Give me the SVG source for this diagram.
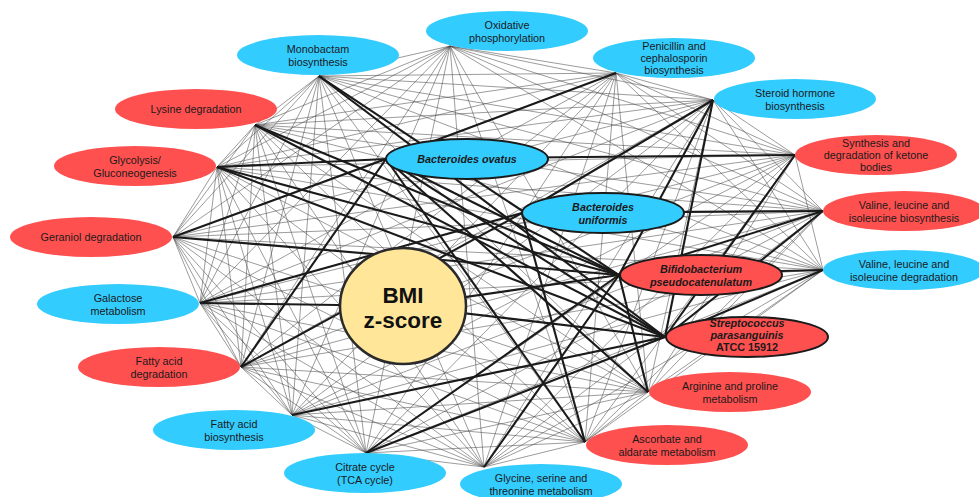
<svg xmlns="http://www.w3.org/2000/svg" width="979" height="497" viewBox="0 0 979 497">
<style>
.bg{fill:#ffffff}
.pb{fill:#33CCFF}
.pr{fill:#FF5050}
.sb{fill:#33CCFF;stroke:#1a1a1a;stroke-width:2}
.sr{fill:#FF5050;stroke:#1a1a1a;stroke-width:2}
.bmi{fill:#FFE699;stroke:#2a2a2a;stroke-width:2.5}
.t{font-family:"Liberation Sans",Arial,sans-serif;font-size:10.8px;fill:#1a1a1a;text-anchor:middle}
.ti{font-weight:bold;font-style:italic}
.tb{font-weight:bold}
.big{font-family:"Liberation Sans",Arial,sans-serif;font-size:22.5px;font-weight:bold;fill:#111;text-anchor:middle}
#thin line{stroke:#444;stroke-width:0.7;opacity:0.75}
#thick line{stroke:#1a1a1a;stroke-width:2.1}
</style>
<rect class="bg" x="0" y="0" width="979" height="497"/>
<g id="connectors">
<g id="thin">
<line x1="450" y1="46" x2="319" y2="76"/><line x1="450" y1="46" x2="255" y2="125"/><line x1="450" y1="46" x2="217" y2="167"/><line x1="450" y1="46" x2="173" y2="237"/><line x1="450" y1="46" x2="200" y2="303"/><line x1="450" y1="46" x2="241" y2="367"/><line x1="450" y1="46" x2="292" y2="415"/><line x1="450" y1="46" x2="366" y2="453"/><line x1="450" y1="46" x2="484" y2="467"/><line x1="450" y1="46" x2="585" y2="442"/><line x1="450" y1="46" x2="648" y2="392"/><line x1="450" y1="46" x2="823" y2="270"/><line x1="450" y1="46" x2="823" y2="211"/><line x1="450" y1="46" x2="795" y2="155"/><line x1="450" y1="46" x2="713" y2="100"/><line x1="450" y1="46" x2="616" y2="73"/>
<line x1="319" y1="76" x2="255" y2="125"/><line x1="319" y1="76" x2="217" y2="167"/><line x1="319" y1="76" x2="173" y2="237"/><line x1="319" y1="76" x2="200" y2="303"/><line x1="319" y1="76" x2="241" y2="367"/><line x1="319" y1="76" x2="292" y2="415"/><line x1="319" y1="76" x2="366" y2="453"/><line x1="319" y1="76" x2="484" y2="467"/><line x1="319" y1="76" x2="585" y2="442"/><line x1="319" y1="76" x2="648" y2="392"/><line x1="319" y1="76" x2="823" y2="270"/><line x1="319" y1="76" x2="823" y2="211"/><line x1="319" y1="76" x2="795" y2="155"/><line x1="319" y1="76" x2="713" y2="100"/><line x1="319" y1="76" x2="616" y2="73"/>
<line x1="255" y1="125" x2="217" y2="167"/><line x1="255" y1="125" x2="173" y2="237"/><line x1="255" y1="125" x2="200" y2="303"/><line x1="255" y1="125" x2="241" y2="367"/><line x1="255" y1="125" x2="292" y2="415"/><line x1="255" y1="125" x2="366" y2="453"/><line x1="255" y1="125" x2="484" y2="467"/><line x1="255" y1="125" x2="585" y2="442"/><line x1="255" y1="125" x2="648" y2="392"/><line x1="255" y1="125" x2="823" y2="270"/><line x1="255" y1="125" x2="823" y2="211"/><line x1="255" y1="125" x2="795" y2="155"/><line x1="255" y1="125" x2="713" y2="100"/><line x1="255" y1="125" x2="616" y2="73"/>
<line x1="217" y1="167" x2="173" y2="237"/><line x1="217" y1="167" x2="200" y2="303"/><line x1="217" y1="167" x2="241" y2="367"/><line x1="217" y1="167" x2="292" y2="415"/><line x1="217" y1="167" x2="366" y2="453"/><line x1="217" y1="167" x2="484" y2="467"/><line x1="217" y1="167" x2="585" y2="442"/><line x1="217" y1="167" x2="648" y2="392"/><line x1="217" y1="167" x2="823" y2="270"/><line x1="217" y1="167" x2="823" y2="211"/><line x1="217" y1="167" x2="795" y2="155"/><line x1="217" y1="167" x2="713" y2="100"/><line x1="217" y1="167" x2="616" y2="73"/>
<line x1="173" y1="237" x2="200" y2="303"/><line x1="173" y1="237" x2="241" y2="367"/><line x1="173" y1="237" x2="292" y2="415"/><line x1="173" y1="237" x2="366" y2="453"/><line x1="173" y1="237" x2="484" y2="467"/><line x1="173" y1="237" x2="585" y2="442"/><line x1="173" y1="237" x2="648" y2="392"/><line x1="173" y1="237" x2="823" y2="270"/><line x1="173" y1="237" x2="823" y2="211"/><line x1="173" y1="237" x2="795" y2="155"/><line x1="173" y1="237" x2="713" y2="100"/><line x1="173" y1="237" x2="616" y2="73"/>
<line x1="200" y1="303" x2="241" y2="367"/><line x1="200" y1="303" x2="292" y2="415"/><line x1="200" y1="303" x2="366" y2="453"/><line x1="200" y1="303" x2="484" y2="467"/><line x1="200" y1="303" x2="585" y2="442"/><line x1="200" y1="303" x2="648" y2="392"/><line x1="200" y1="303" x2="823" y2="270"/><line x1="200" y1="303" x2="823" y2="211"/><line x1="200" y1="303" x2="795" y2="155"/><line x1="200" y1="303" x2="713" y2="100"/><line x1="200" y1="303" x2="616" y2="73"/>
<line x1="241" y1="367" x2="292" y2="415"/><line x1="241" y1="367" x2="366" y2="453"/><line x1="241" y1="367" x2="484" y2="467"/><line x1="241" y1="367" x2="585" y2="442"/><line x1="241" y1="367" x2="648" y2="392"/><line x1="241" y1="367" x2="823" y2="270"/><line x1="241" y1="367" x2="823" y2="211"/><line x1="241" y1="367" x2="795" y2="155"/><line x1="241" y1="367" x2="713" y2="100"/><line x1="241" y1="367" x2="616" y2="73"/>
<line x1="292" y1="415" x2="366" y2="453"/><line x1="292" y1="415" x2="484" y2="467"/><line x1="292" y1="415" x2="585" y2="442"/><line x1="292" y1="415" x2="648" y2="392"/><line x1="292" y1="415" x2="823" y2="270"/><line x1="292" y1="415" x2="823" y2="211"/><line x1="292" y1="415" x2="795" y2="155"/><line x1="292" y1="415" x2="713" y2="100"/><line x1="292" y1="415" x2="616" y2="73"/>
<line x1="366" y1="453" x2="484" y2="467"/><line x1="366" y1="453" x2="585" y2="442"/><line x1="366" y1="453" x2="648" y2="392"/><line x1="366" y1="453" x2="823" y2="270"/><line x1="366" y1="453" x2="823" y2="211"/><line x1="366" y1="453" x2="795" y2="155"/><line x1="366" y1="453" x2="713" y2="100"/><line x1="366" y1="453" x2="616" y2="73"/>
<line x1="484" y1="467" x2="585" y2="442"/><line x1="484" y1="467" x2="648" y2="392"/><line x1="484" y1="467" x2="823" y2="270"/><line x1="484" y1="467" x2="823" y2="211"/><line x1="484" y1="467" x2="795" y2="155"/><line x1="484" y1="467" x2="713" y2="100"/><line x1="484" y1="467" x2="616" y2="73"/>
<line x1="585" y1="442" x2="648" y2="392"/><line x1="585" y1="442" x2="823" y2="270"/><line x1="585" y1="442" x2="823" y2="211"/><line x1="585" y1="442" x2="795" y2="155"/><line x1="585" y1="442" x2="713" y2="100"/><line x1="585" y1="442" x2="616" y2="73"/>
<line x1="648" y1="392" x2="823" y2="270"/><line x1="648" y1="392" x2="823" y2="211"/><line x1="648" y1="392" x2="795" y2="155"/><line x1="648" y1="392" x2="713" y2="100"/><line x1="648" y1="392" x2="616" y2="73"/>
<line x1="823" y1="270" x2="795" y2="155"/><line x1="823" y1="270" x2="713" y2="100"/><line x1="823" y1="270" x2="616" y2="73"/>
<line x1="823" y1="211" x2="713" y2="100"/><line x1="823" y1="211" x2="616" y2="73"/>
<line x1="795" y1="155" x2="713" y2="100"/><line x1="795" y1="155" x2="616" y2="73"/>
<line x1="713" y1="100" x2="616" y2="73"/>
</g>
<g id="thick">
<line x1="386" y1="159" x2="217" y2="167"/><line x1="386" y1="159" x2="173" y2="237"/><line x1="386" y1="159" x2="241" y2="367"/><line x1="386" y1="159" x2="795" y2="155"/><line x1="386" y1="159" x2="616" y2="73"/><line x1="386" y1="159" x2="648" y2="392"/><line x1="386" y1="159" x2="585" y2="442"/><line x1="386" y1="159" x2="619" y2="275"/><line x1="386" y1="159" x2="665" y2="337"/>
<line x1="522" y1="213" x2="713" y2="100"/><line x1="522" y1="213" x2="585" y2="442"/><line x1="522" y1="213" x2="241" y2="367"/><line x1="522" y1="213" x2="823" y2="211"/><line x1="522" y1="213" x2="200" y2="303"/>
<line x1="619" y1="275" x2="319" y2="76"/><line x1="619" y1="275" x2="255" y2="125"/><line x1="619" y1="275" x2="217" y2="167"/><line x1="619" y1="275" x2="173" y2="237"/><line x1="619" y1="275" x2="484" y2="467"/><line x1="619" y1="275" x2="366" y2="453"/><line x1="619" y1="275" x2="713" y2="100"/><line x1="619" y1="275" x2="823" y2="211"/><line x1="619" y1="275" x2="823" y2="270"/><line x1="619" y1="275" x2="648" y2="392"/><line x1="619" y1="275" x2="403" y2="306"/>
<line x1="665" y1="337" x2="319" y2="76"/><line x1="665" y1="337" x2="255" y2="125"/><line x1="665" y1="337" x2="217" y2="167"/><line x1="665" y1="337" x2="292" y2="415"/><line x1="665" y1="337" x2="366" y2="453"/><line x1="665" y1="337" x2="713" y2="100"/><line x1="665" y1="337" x2="823" y2="211"/><line x1="665" y1="337" x2="823" y2="270"/><line x1="665" y1="337" x2="795" y2="155"/><line x1="665" y1="337" x2="403" y2="306"/>
<line x1="403" y1="306" x2="200" y2="303"/>
</g>
</g>
<g id="n-oxi"><ellipse class="pb" cx="507" cy="31" rx="81" ry="20"/><text class="t" x="507" y="29">Oxidative</text><text class="t" x="507" y="41.5">phosphorylation</text></g>
<g id="n-mono"><ellipse class="pb" cx="318" cy="55" rx="81" ry="20"/><text class="t" x="318" y="53">Monobactam</text><text class="t" x="318" y="65.5">biosynthesis</text></g>
<g id="n-lys"><ellipse class="pr" cx="196" cy="109" rx="81" ry="20"/><text class="t" x="196" y="113">Lysine degradation</text></g>
<g id="n-gly"><ellipse class="pr" cx="135" cy="166" rx="81" ry="20"/><text class="t" x="135" y="164">Glycolysis/</text><text class="t" x="135" y="176.5">Gluconeogenesis</text></g>
<g id="n-ger"><ellipse class="pr" cx="91" cy="237" rx="81" ry="20"/><text class="t" x="91" y="241">Geraniol degradation</text></g>
<g id="n-gal"><ellipse class="pb" cx="118" cy="304" rx="81" ry="20"/><text class="t" x="118" y="302">Galactose</text><text class="t" x="118" y="314.5">metabolism</text></g>
<g id="n-fad"><ellipse class="pr" cx="159" cy="367" rx="81" ry="20"/><text class="t" x="159" y="365">Fatty acid</text><text class="t" x="159" y="377.5">degradation</text></g>
<g id="n-fab"><ellipse class="pb" cx="234" cy="430" rx="81" ry="20"/><text class="t" x="234" y="428">Fatty acid</text><text class="t" x="234" y="440.5">biosynthesis</text></g>
<g id="n-tca"><ellipse class="pb" cx="365" cy="473" rx="81" ry="20"/><text class="t" x="365" y="471">Citrate cycle</text><text class="t" x="365" y="483.5">(TCA cycle)</text></g>
<g id="n-gsm"><ellipse class="pb" cx="541" cy="484" rx="81" ry="20"/><text class="t" x="541" y="482">Glycine, serine and</text><text class="t" x="541" y="494.5">threonine metabolism</text></g>
<g id="n-asc"><ellipse class="pr" cx="667" cy="445" rx="81" ry="20"/><text class="t" x="667" y="443">Ascorbate and</text><text class="t" x="667" y="455.5">aldarate metabolism</text></g>
<g id="n-arg"><ellipse class="pr" cx="730" cy="392" rx="81" ry="20"/><text class="t" x="730" y="390">Arginine and proline</text><text class="t" x="730" y="402.5">metabolism</text></g>
<g id="n-sp"><ellipse class="sr" cx="747" cy="337" rx="81" ry="20"/><text class="t ti" x="747" y="327">Streptococcus</text><text class="t ti" x="747" y="339">parasanguinis</text><text class="t tb" x="747" y="351">ATCC 15912</text></g>
<g id="n-bp"><ellipse class="sr" cx="701" cy="275" rx="81" ry="20"/><text class="t ti" x="701" y="273">Bifidobacterium</text><text class="t ti" x="701" y="285.5">pseudocatenulatum</text></g>
<g id="n-vld"><ellipse class="pb" cx="904" cy="270" rx="81" ry="20"/><text class="t" x="904" y="268">Valine, leucine and</text><text class="t" x="904" y="280.5">isoleucine degradation</text></g>
<g id="n-vlb"><ellipse class="pr" cx="904" cy="211" rx="81" ry="20"/><text class="t" x="904" y="209">Valine, leucine and</text><text class="t" x="904" y="221.5">isoleucine biosynthesis</text></g>
<g id="n-ket"><ellipse class="pr" cx="876" cy="155" rx="81" ry="20"/><text class="t" x="876" y="147">Synthesis and</text><text class="t" x="876" y="159">degradation of ketone</text><text class="t" x="876" y="171">bodies</text></g>
<g id="n-ste"><ellipse class="pb" cx="795" cy="99" rx="81" ry="20"/><text class="t" x="795" y="97">Steroid hormone</text><text class="t" x="795" y="109.5">biosynthesis</text></g>
<g id="n-pen"><ellipse class="pb" cx="674" cy="58" rx="81" ry="20"/><text class="t" x="674" y="50">Penicillin and</text><text class="t" x="674" y="62">cephalosporin</text><text class="t" x="674" y="74">biosynthesis</text></g>
<g id="n-bo"><ellipse class="sb" cx="467" cy="159" rx="81" ry="20"/><text class="t ti" x="467" y="163">Bacteroides  ovatus</text></g>
<g id="n-bu"><ellipse class="sb" cx="603" cy="213" rx="81" ry="20"/><text class="t ti" x="603" y="211">Bacteroides</text><text class="t ti" x="603" y="224">uniformis</text></g>
<g id="n-bmi"><ellipse class="bmi" cx="403" cy="306" rx="63" ry="58"/><text class="big" x="403" y="303">BMI</text><text class="big" x="403" y="328">z-score</text></g>
</svg>
